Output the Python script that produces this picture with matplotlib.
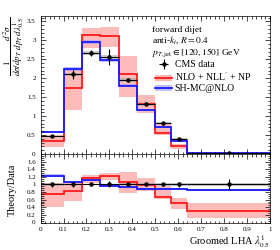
import numpy as np
import matplotlib
matplotlib.use("Agg")
import matplotlib.pyplot as plt
from matplotlib.lines import Line2D
from matplotlib.patches import Patch
from matplotlib.ticker import MultipleLocator, FuncFormatter, FixedLocator

plt.rcParams["font.family"] = ["Liberation Serif", "DejaVu Serif"]
plt.rcParams["mathtext.fontset"] = "stix"

# bins of groomed LHA
edges = [0.0, 0.1, 0.18, 0.26, 0.34, 0.42, 0.5, 0.57, 0.64, 1.0]
# CMS data
data = [0.47, 2.10, 2.67, 2.56, 1.95, 1.32, 0.81, 0.40, 0.030]
data_err = [0.03, 0.12, 0.08, 0.20, 0.06, 0.06, 0.04, 0.025, 0.0042]
data_sys = [0.015, 0.05, 0.06, 0.06, 0.05, 0.04, 0.025, 0.012, 0.001]
# NLO + NLL' + NP
red = [0.35, 1.74, 3.14, 3.11, 2.10, 1.31, 0.55, 0.20, 0.009]
red_lo = [0.19, 1.16, 2.79, 2.83, 1.50, 1.08, 0.49, 0.14, 0.0036]
red_hi = [0.49, 2.24, 3.32, 3.35, 2.58, 1.55, 0.78, 0.26, 0.0156]
# SH-MC@NLO
blue = [0.58, 2.24, 2.96, 2.47, 1.80, 1.16, 0.71, 0.348, 0.0255]
blue_err = [0.02, 0.05, 0.05, 0.05, 0.04, 0.03, 0.02, 0.01, 0.001]

edges = np.array(edges)
data = np.array(data)
data_err = np.array(data_err)
data_sys = np.array(data_sys)
red, red_lo, red_hi = np.array(red), np.array(red_lo), np.array(red_hi)
blue, blue_err = np.array(blue), np.array(blue_err)
centers = 0.5 * (edges[1:] + edges[:-1])
halfw = 0.5 * (edges[1:] - edges[:-1])

RED = "#ff1a1a"
BLUE = "#1a1aff"
PINK = "#ffb3b3"
LBLUE = "#9999ff"

fig = plt.figure(figsize=(2.8, 2.5), dpi=100)
ax = fig.add_axes([0.145, 0.384, 0.819, 0.553])
rax = fig.add_axes([0.145, 0.11, 0.819, 0.274])


def draw(a, d, derr, dsys, r, rlo, rhi, b, berr):
    a.stairs(rhi, edges, baseline=rlo, fill=True, color=PINK, lw=0, alpha=0.9)
    a.stairs(b + berr, edges, baseline=b - berr, fill=True, color=LBLUE, lw=0, alpha=0.6)
    a.stairs(d + dsys, edges, baseline=d - dsys, fill=True, color="#aaaaaa", lw=0, alpha=0.6)
    a.stairs(r, edges, color=RED, lw=1.3, baseline=None)
    a.stairs(b, edges, color=BLUE, lw=1.3, baseline=None)
    eb = a.errorbar(centers, d, yerr=derr, xerr=halfw, fmt="o", color="black",
                    ms=2.2, elinewidth=0.8, capsize=0, label="CMS data")
    return eb


eb = draw(ax, data, data_err, data_sys, red, red_lo, red_hi, blue, blue_err)
draw(rax, data / data, data_err / data, data_sys / data, red / data,
     red_lo / data, red_hi / data, blue / data, blue_err / data)

fmt = FuncFormatter(lambda v, p: f"{v:g}")
for a in (ax, rax):
    a.set_xlim(0, 1)
    a.tick_params(which="both", direction="in", top=True, right=True, labelsize=5)
    a.tick_params(which="major", length=3.5, width=0.5)
    a.tick_params(which="minor", length=1.8, width=0.5)
    a.xaxis.set_major_locator(MultipleLocator(0.1))
    a.xaxis.set_minor_locator(MultipleLocator(0.02))
    a.xaxis.set_major_formatter(fmt)
    a.yaxis.set_major_formatter(fmt)
    for s in a.spines.values():
        s.set_linewidth(0.5)

ax.set_ylim(0, 3.65)
ax.yaxis.set_major_locator(MultipleLocator(0.5))
ax.yaxis.set_minor_locator(MultipleLocator(0.1))
ax.tick_params(labelbottom=False)
rax.set_ylim(0, 1.8)
rax.yaxis.set_major_locator(FixedLocator(np.arange(0, 1.61, 0.2)))
rax.yaxis.set_minor_locator(MultipleLocator(0.05))

fig.text(0.05, 0.935,
         r"$\dfrac{1}{d\sigma/dp_T}\,\dfrac{d^2\sigma}{dp_T\,d\lambda^1_{0.5}}$",
         rotation=90, ha="center", va="top", fontsize=6.5)
fig.text(0.045, 0.24, "Theory/Data", rotation=90, ha="center", va="center", fontsize=7.5)
fig.text(0.964, 0.02, r"Groomed LHA $\lambda^1_{0.5}$", ha="right", va="baseline", fontsize=7.5)

ax.text(0.484, 0.895, "forward dijet", transform=ax.transAxes, fontsize=6.8, va="center")
ax.text(0.484, 0.825, r"anti-$k_t$, $R = 0.4$", transform=ax.transAxes, fontsize=6.8, va="center")
ax.text(0.484, 0.735, r"$p_{T,\mathrm{jet}} \in [120, 150]$ GeV", transform=ax.transAxes,
        fontsize=6.8, va="center")

h_red = (Patch(color=PINK, lw=0), Line2D([], [], color=RED, lw=1.3))
h_blue = (Patch(color=LBLUE, alpha=0.6, lw=0), Line2D([], [], color=BLUE, lw=1.3))
ax.legend([eb, h_red, h_blue],
          ["CMS data", r"NLO + NLL$'$ + NP", "SH-MC@NLO"],
          loc="upper left", bbox_to_anchor=(0.5, 0.68), frameon=False,
          fontsize=7, handlelength=1.7, handleheight=0.6, handletextpad=0.3,
          labelspacing=0.12, borderpad=0, borderaxespad=0)

fig.savefig("out.png", dpi=100)
